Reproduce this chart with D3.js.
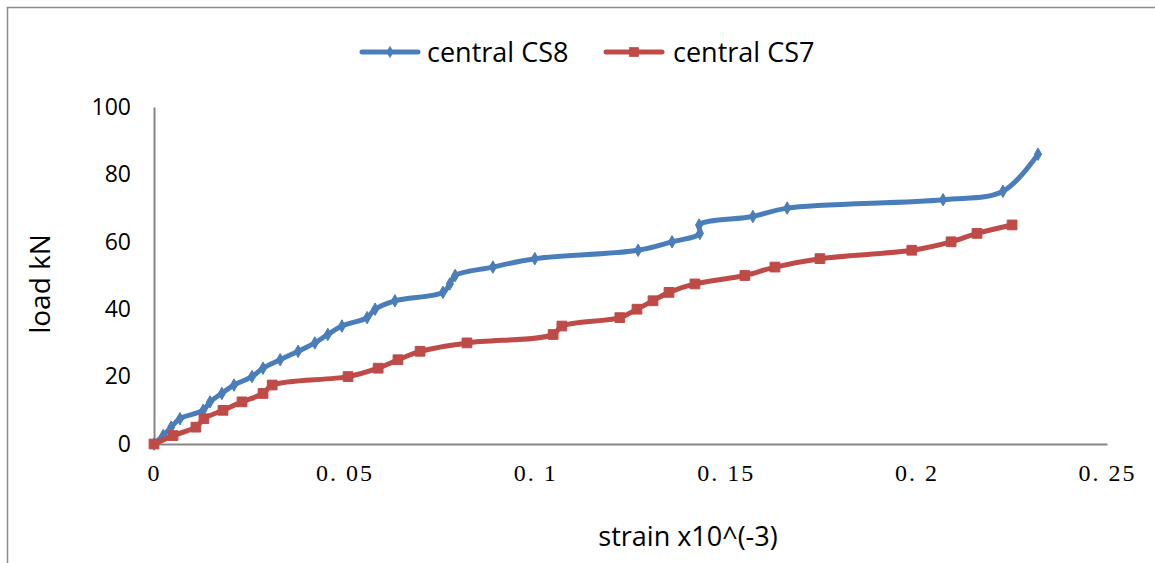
<!DOCTYPE html>
<html>
<head>
<meta charset="utf-8">
<script src="https://cdn.jsdelivr.net/npm/d3@7"></script>
<style>
  body { margin: 0; background: #fff; }
  svg { display: block; }
</style>
</head>
<body>
<div id="container"></div>
<script>
/* DATA */
const seriesNames = ["central CS8", "central CS7"];

// central CS8 (blue)
const cs8Strain = [0, 0.0024, 0.0045, 0.0068, 0.0129, 0.0147, 0.0178, 0.0210, 0.0257, 0.0286,
                   0.0331, 0.0378, 0.0422, 0.0456, 0.0493, 0.0559, 0.0580, 0.0632, 0.0758, 0.0776,
                   0.0790, 0.0889, 0.0999, 0.1270, 0.1359, 0.1432, 0.1430, 0.1571, 0.1661, 0.2070,
                   0.2227, 0.2319];
const cs8Load = [0, 2.5, 5, 7.5, 10, 12.5, 15, 17.5, 20, 22.5,
                 25, 27.5, 30, 32.5, 35, 37.5, 40, 42.5, 45, 47.5,
                 50, 52.5, 55, 57.5, 60, 62.5, 65, 67.5, 70, 72.5,
                 75, 86];

// central CS7 (red)
const cs7Strain = [0, 0.0050, 0.0110, 0.0131, 0.0181, 0.0231, 0.0286, 0.0310, 0.0509, 0.0588,
                   0.0640, 0.0698, 0.0821, 0.1047, 0.1070, 0.1222, 0.1267, 0.1309, 0.1351, 0.1419,
                   0.1550, 0.1629, 0.1747, 0.1988, 0.2091, 0.2159, 0.2251];
const cs7Load = [0, 2.5, 5, 7.5, 10, 12.5, 15, 17.5, 20, 22.5,
                 25, 27.5, 30, 32.5, 35, 37.5, 40, 42.5, 45, 47.5,
                 50, 52.5, 55, 57.5, 60, 62.5, 65];

const xTicks = [0, 0.05, 0.1, 0.15, 0.2, 0.25];
const yTicks = [0, 20, 40, 60, 80, 100];

/* CONSTANTS */
const width = 1155, height = 563;
const plot = { left: 154, right: 1107, top: 107, bottom: 444 };
const blue = "#4a7ebb", red = "#be4b48", axisGray = "#868686";
const sans = "'Open Sans', sans-serif";

const svg = d3.select("#container")
  .append("svg")
  .attr("width", width)
  .attr("height", height);

// chart border (right/bottom run off the page like the original)
svg.append("rect")
  .attr("x", 7.5).attr("y", 7.5)
  .attr("width", 1160).attr("height", 570)
  .attr("fill", "none")
  .attr("stroke", "#8c8c8c")
  .attr("stroke-width", 1.5);

// scales
const xScale = d3.scaleLinear().domain([0, 0.25]).range([plot.left, plot.right]);
const yScale = d3.scaleLinear().domain([0, 100]).range([plot.bottom, plot.top]);

// axes
const xAxis = d3.axisBottom(xScale)
  .tickValues(xTicks)
  .tickSize(0)
  .tickSizeOuter(0)
  .tickPadding(20)
  .tickFormat(d => String(d).replace(".", ". "));

const yAxis = d3.axisLeft(yScale)
  .tickValues(yTicks)
  .tickSize(0)
  .tickSizeOuter(0)
  .tickPadding(23);

const gx = svg.append("g")
  .attr("transform", `translate(0, ${plot.bottom})`)
  .call(xAxis);
gx.select(".domain").attr("stroke", axisGray).attr("stroke-width", 2);
gx.selectAll("text")
  .attr("fill", "#000")
  .style("font-family", "'Liberation Serif', serif")
  .style("font-size", "24px")
  .style("letter-spacing", "2px");

const gy = svg.append("g")
  .attr("transform", `translate(${plot.left}, 0)`)
  .call(yAxis);
gy.select(".domain").attr("stroke", axisGray).attr("stroke-width", 2);
gy.selectAll("text")
  .attr("fill", "#000")
  .style("font-family", sans)
  .style("font-size", "23px");

// axis labels
svg.append("text")
  .attr("x", 688).attr("y", 546)
  .attr("text-anchor", "middle")
  .style("font-family", sans)
  .style("font-size", "27px")
  .text("strain x10^(-3)");

svg.append("text")
  .attr("transform", "translate(50, 284) rotate(-90)")
  .attr("text-anchor", "middle")
  .style("font-family", sans)
  .style("font-size", "28px")
  .text("load kN");

// lines
const line = d3.line()
  .x(d => xScale(d[0]))
  .y(d => yScale(d[1]))
  .curve(d3.curveCatmullRom.alpha(0.5));

const series = [
  { name: seriesNames[0], pts: d3.zip(cs8Strain, cs8Load), color: blue, symbol: d3.symbolDiamond, size: 45 },
  { name: seriesNames[1], pts: d3.zip(cs7Strain, cs7Load), color: red, symbol: d3.symbolSquare, size: 95 }
];

series.forEach(s => {
  svg.append("path")
    .datum(s.pts)
    .attr("d", line)
    .attr("fill", "none")
    .attr("stroke", s.color)
    .attr("stroke-width", 5)
    .attr("stroke-linejoin", "round")
    .attr("stroke-linecap", "round");

  svg.selectAll(null)
    .data(s.pts)
    .join("path")
    .attr("d", d3.symbol().type(s.symbol).size(s.size))
    .attr("transform", d => `translate(${xScale(d[0])}, ${yScale(d[1])})`)
    .attr("fill", s.color)
    .attr("stroke", s.color)
    .attr("stroke-width", 1);
});

// legend
const legendItems = [
  { x: 362, textX: 427 },
  { x: 606, textX: 673 }
];
legendItems.forEach((item, i) => {
  const s = series[i];
  svg.append("line")
    .attr("x1", item.x).attr("x2", item.x + 56)
    .attr("y1", 52).attr("y2", 52)
    .attr("stroke", s.color)
    .attr("stroke-width", 5)
    .attr("stroke-linecap", "round");
  svg.append("path")
    .attr("d", d3.symbol().type(s.symbol).size(s.size)())
    .attr("transform", `translate(${item.x + 28}, 52)`)
    .attr("fill", s.color);
  svg.append("text")
    .attr("x", item.textX).attr("y", 62)
    .style("font-family", sans)
    .style("font-size", "27px")
    .text(s.name);
});
</script>
</body>
</html>
